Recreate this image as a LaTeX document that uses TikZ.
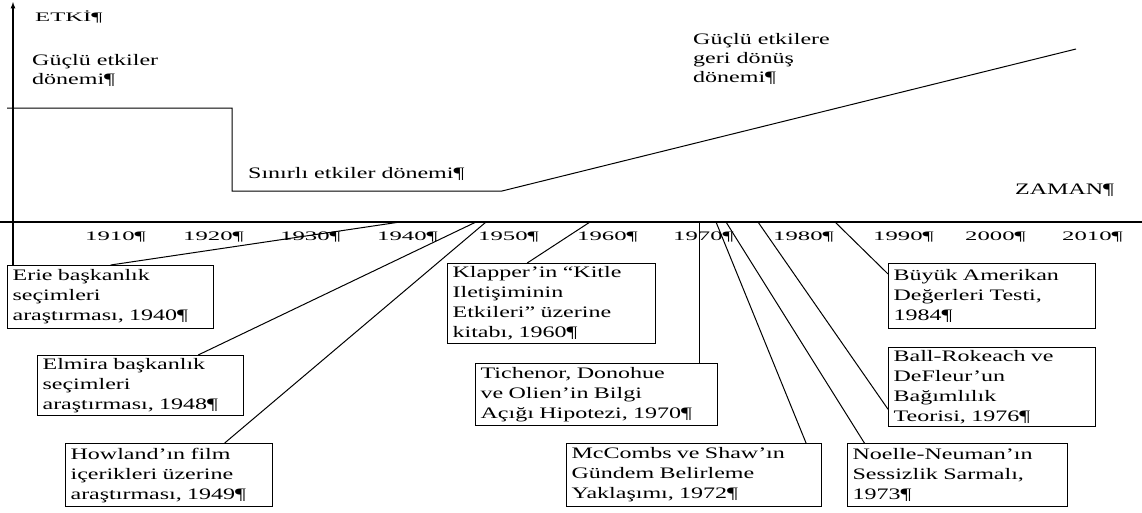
\documentclass[tikz,border=0pt]{standalone}
\usepackage{fontspec}
\setmainfont{Liberation Serif}[FakeStretch=1.5]
\newfontfamily\yearfont{Liberation Serif}[FakeStretch=1.9]
\tikzset{
	evbox/.style={draw, line width=1.2pt, anchor=north west, inner xsep=5pt, inner ysep=1pt, align=left, font=\fontsize{16pt}{20pt}\selectfont},
	period/.style={anchor=west, align=left, inner sep=0pt, font=\fontsize{16pt}{19pt}\selectfont},
	year/.style={anchor=west, inner sep=0pt, font=\yearfont\fontsize{13pt}{15pt}\selectfont},
	conn/.style={line width=1pt}
}
\begin{document}
\begin{tikzpicture}[x=1pt,y=-1pt]
	\useasboundingbox (0,0) rectangle (1142,512);
	\coordinate (top) at (13,2);
	\coordinate (left) at (0,222);
	\coordinate (right) at (1142,222);
	\coordinate (c1940) at (400,222);
	\coordinate (c1948) at (476,222);
	\coordinate (c1949) at (486,222);
	\coordinate (c1960) at (590,222);
	\coordinate (c1972) at (716,222);
	\coordinate (c1973) at (726,222);
	\coordinate (c1976) at (758,222);
	\coordinate (c1984) at (835,222);
	\node[year] (etki) at (35,17) {ETKİ¶};
	\node[period] (strong) at (32,70) {Güçlü etkiler\\dönemi¶};
	\node[period] (limited) at (248,174) {Sınırlı etkiler dönemi¶};
	\node[period] (back) at (693,59) {Güçlü etkilere\\geri dönüş\\dönemi¶};
	\node[period] (zaman) at (1015,190) {ZAMAN¶};
	\foreach \yr/\x in {1910/85, 1920/183, 1930/280, 1940/377, 1950/478, 1960/577, 1970/673, 1980/773, 1990/873, 2000/965, 2010/1062}
		\node[year] (y\yr) at (\x,237) {\yr¶};
	\node[evbox, text width=196pt, minimum height=63pt] (erie) at (7,265) {Erie başkanlık\\seçimleri\\araştırması, 1940¶};
	\node[evbox, text width=196pt, minimum height=60pt] (elmira) at (37,355) {Elmira başkanlık\\seçimleri\\araştırması, 1948¶};
	\node[evbox, text width=197pt, minimum height=63pt] (howland) at (65,443) {Howland’ın film\\içerikleri üzerine\\araştırması, 1949¶};
	\node[evbox, text width=198pt, minimum height=80pt] (klapper) at (447,263) {Klapper’in “Kitle\\Iletişiminin\\Etkileri” üzerine\\kitabı, 1960¶};
	\node[evbox, text width=232pt, minimum height=62pt] (tich) at (475,363) {Tichenor, Donohue\\ve Olien’in Bilgi\\Açığı Hipotezi, 1970¶};
	\node[evbox, text width=245pt, minimum height=63pt] (mccombs) at (566,443) {McCombs ve Shaw’ın\\Gündem Belirleme\\Yaklaşımı, 1972¶};
	\node[evbox, text width=210pt, minimum height=63pt] (noelle) at (847,443) {Noelle-Neuman’ın\\Sessizlik Sarmalı,\\1973¶};
	\node[evbox, text width=197pt, minimum height=79pt] (ball) at (888,347) {Ball-Rokeach ve\\DeFleur’un\\Bağımlılık\\Teorisi, 1976¶};
	\node[evbox, text width=197pt, minimum height=65pt] (buyuk) at (888,263) {Büyük Amerikan\\Değerleri Testi,\\1984¶};
	\draw[-latex, line width=1.2pt] (erie.north -| top) -- (top);
	\draw[line width=1.2pt] (left) -- (right);
	\draw[line width=1pt] (7,108) -- (232,108) -- (232,191) -- (502,191) -- (1076,49);
	\draw[conn] (c1940) -- (erie.north);
	\draw[conn] (c1948) -- (elmira.28);
	\draw[conn] (c1949) -- (howland.30);
	\draw[conn] (c1960) -- (klapper.121);
	\draw[conn] (tich.17 |- left) -- (tich.17);
	\draw[conn] (c1972) -- (mccombs.16);
	\draw[conn] (c1973) -- (noelle.161);
	\draw[conn] (c1976) -- (ball.192);
	\draw[conn] (c1984) -- (buyuk.168);
\end{tikzpicture}
\end{document}
